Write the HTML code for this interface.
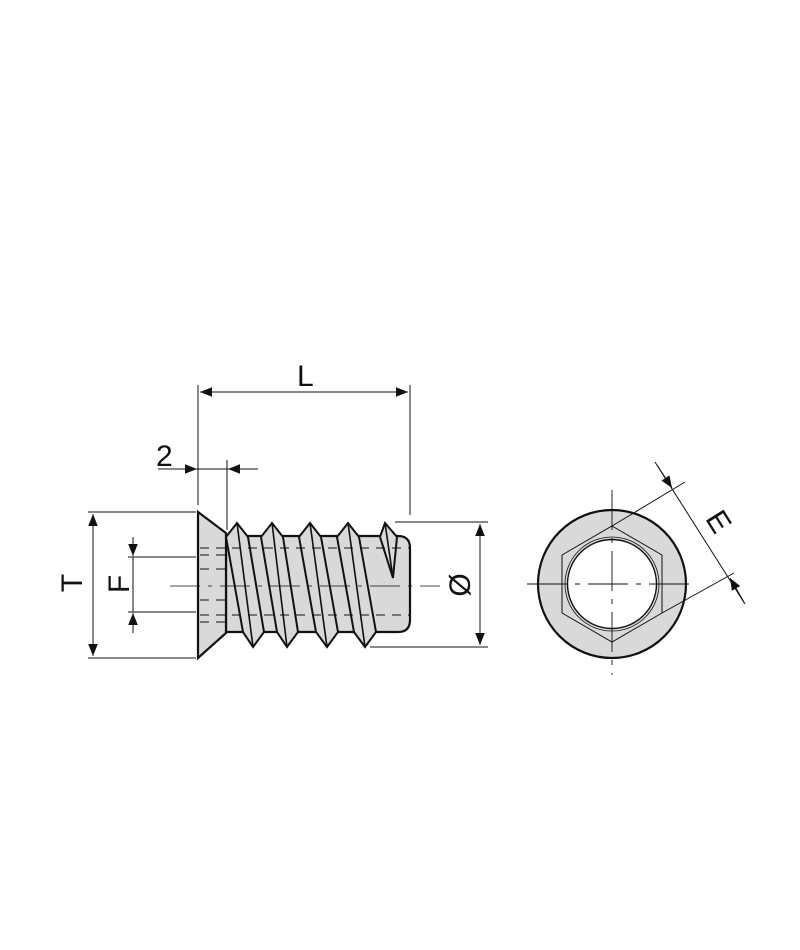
<!DOCTYPE html>
<html><head><style>body{margin:0;background:#fff}svg{display:block}</style></head><body>
<svg width="800" height="950" viewBox="0 0 800 950" xmlns="http://www.w3.org/2000/svg" font-family="Liberation Sans, sans-serif">
<defs>
<marker id="a" viewBox="0 0 10 10" refX="10" refY="5" markerWidth="14" markerHeight="12" orient="auto-start-reverse" markerUnits="userSpaceOnUse"><path d="M0,1 L10,5 L0,9z" fill="#111"/></marker>
</defs>
<g stroke="#111" fill="none" stroke-width="1">
<path d="M226,536 H398 Q410,536 410,548 V620 Q410,632 398,632 H226 Z" fill="#d9d9d9" stroke-width="2.2"/>
<path d="M198,512 L226,533 V633 L198,658 Z" fill="#d9d9d9" stroke-width="2.2"/>
<g fill="#d9d9d9" stroke-width="2">
<path d="M237,523 L248,537 L264,632 L253,647 L243,632 L226,537 Z"/>
<path d="M272,523 L283,537 L298,632 L287,647 L277,632 L261,537 Z"/>
<path d="M310,523 L321,537 L338,632 L327,647 L316,632 L299,537 Z"/>
<path d="M348,523 L359,537 L376,632 L365,647 L354,632 L337,537 Z"/>
<path d="M385,523 L397,537 L393,578 L380,537 Z"/>
</g>
<g stroke-width="1.6">
<path d="M237,523 L253,647 M272,523 L287,647 M310,523 L327,647 M348,523 L365,647 M385,523 L393,578"/>
</g>
<g stroke-dasharray="9,7">
<path d="M200,548 H410 M200,615 H410 M200,555 H226 M200,569 H226 M200,600 H226 M200,622 H226"/>
</g>
<path d="M170,586 H440" stroke-dasharray="30,8,4,8" stroke-width="0.8"/>
<path d="M198,385 V505 M410,385 V515 M227,460 V530"/>
<path d="M200,392 H408" marker-start="url(#a)" marker-end="url(#a)"/>
<path d="M158,469 H197" marker-end="url(#a)"/>
<path d="M258,469 H228" marker-end="url(#a)"/>
<path d="M197,469 H228"/>
<path d="M88,512 H196 M88,658 H196"/>
<path d="M93,514 V656" marker-start="url(#a)" marker-end="url(#a)"/>
<path d="M128,557 H196 M128,612 H196 M133,557 V612"/>
<path d="M133,537 V556" marker-end="url(#a)"/>
<path d="M133,633 V613" marker-end="url(#a)"/>
<path d="M395,522 H488 M370,647 H488"/>
<path d="M480,524 V645" marker-start="url(#a)" marker-end="url(#a)"/>
<circle cx="612" cy="584" r="74" fill="#d9d9d9" stroke-width="2.2"/>
<path d="M612,526 L662,555 L662,613 L612,642 L562,613 L562,555 Z" fill="#d9d9d9"/>
<circle cx="612" cy="584" r="47" fill="none" stroke-width="0.8"/>
<circle cx="612" cy="584" r="44.5" fill="#fff" stroke-width="1.4"/>
<path d="M527,584 H697 M612,490 V675" stroke-dasharray="40,8,5,8" stroke-width="0.9"/>
<path d="M612,526 L685,482 M662,613 L734,573"/>
<path d="M655,462 L745,604"/>
<path d="M657,465 L672,488" marker-end="url(#a)"/>
<path d="M744,602 L730,578" marker-end="url(#a)"/>
</g>
<g fill="#111" font-size="30">
<text x="297" y="386">L</text>
<text x="156" y="466">2</text>
<text transform="translate(82,583) rotate(-90)" text-anchor="middle">T</text>
<text transform="translate(129,584) rotate(-90)" text-anchor="middle">F</text>
<text transform="translate(470,585) rotate(-90)" text-anchor="middle">Ø</text>
<text transform="translate(710,527) rotate(58)" text-anchor="middle">E</text>
</g>
</svg>
</body></html>
